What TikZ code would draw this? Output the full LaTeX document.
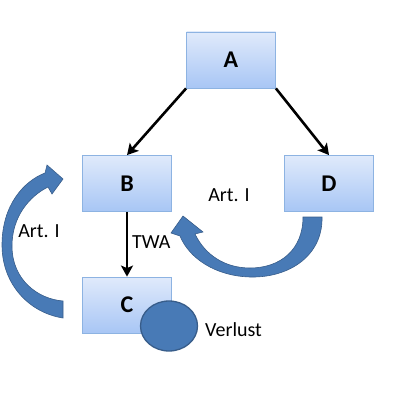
\documentclass[tikz,border=0pt]{standalone}
\usepackage{fontspec}
\setmainfont{Carlito}
\usepackage{tikz}
\usetikzlibrary{arrows.meta, positioning, shapes.geometric}
\definecolor{boxtop}{RGB}{224,234,251}
\definecolor{boxbot}{RGB}{168,198,245}
\definecolor{boxline}{RGB}{141,179,226}
\definecolor{bandfill}{RGB}{72,122,182}
\definecolor{bandline}{RGB}{56,93,138}
\tikzset{
  box/.style   = {draw=boxline, line width=0.8pt, top color=boxtop, bottom color=boxbot,
                  minimum width=89pt, minimum height=56pt, inner sep=0pt,
                  font=\bfseries\fontsize{24}{24}\selectfont},
  sig/.style   = {-{Stealth[length=11pt, width=12pt, inset=2.5pt]}, line width=2.6pt},
  band/.style  = {fill=bandfill, draw=bandline, line width=0.6pt},
  lab/.style   = {font=\fontsize{20}{20}\selectfont, inner sep=0pt},
  spot/.style  = {ellipse, fill=bandfill, draw=bandline, line width=1.3pt,
                  minimum width=57pt, minimum height=50pt, inner sep=0pt},
}

\begin{document}
\begin{tikzpicture}[x=1pt, y=-1pt]
  \useasboundingbox (0,0) rectangle (417,406);

  % boxes
  \node[box] (a) at (231,60)    {A};
  \node[box] (b) at (127,183.5) {B};
  \node[box] (d) at (329,183.5) {D};
  \node[box] (c) at (127,305)   {C};

  \node[spot] (loss) at (169,326) {};
  \node[lab, anchor=west] (verlust) at (205,330) {Verlust};

  % straight arrows
  \draw[sig] (a.south west) -- (b.north);
  \draw[sig] (a.south east) -- (d.north);
  \draw[sig] (b) -- (c);
  \node[lab, anchor=west] (twa) at (132,242) {TWA};

  % curved block arrows
  \draw[band] (63,301) -- (63,318)
    .. controls (30,313) and (2,285) .. (2,245)
    .. controls (2,205) and (24,181) .. (45,173)
    -- (47,165) -- (63,179) -- (52,194) -- (48,187)
    .. controls (30,196) and (12,216) .. (12,246)
    .. controls (12,280) and (38,299) .. (63,301) -- cycle;
  \node[lab] (artl) at (39,231) {Art. I};

  \draw[band] (303,217) -- (322,217)
    .. controls (323,255) and (290,278) .. (250,277)
    .. controls (215,276) and (189,258) .. (180,236)
    -- (171,233) -- (183,216) -- (203,232) -- (195,234)
    .. controls (205,255) and (225,268) .. (250,268)
    .. controls (280,268) and (303,250) .. (303,217) -- cycle;
  \node[lab] (artr) at (229,195) {Art. I};
\end{tikzpicture}
\end{document}
